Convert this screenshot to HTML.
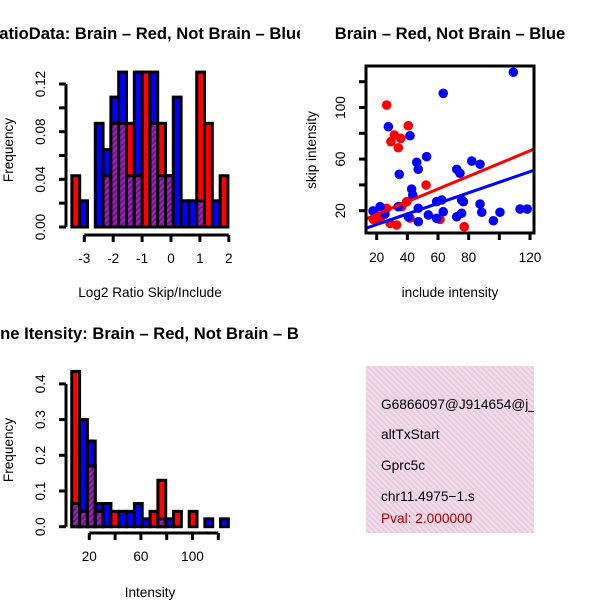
<!DOCTYPE html>
<html><head><meta charset="utf-8"><style>
html,body{margin:0;padding:0;background:#fff;}
svg{display:block;font-family:"Liberation Sans",Arial,sans-serif;}
</style></head><body>
<svg id="c" width="600" height="600" viewBox="0 0 600 600" xmlns="http://www.w3.org/2000/svg">
<defs>
<pattern id="hatch" width="4" height="4" patternUnits="userSpaceOnUse" patternTransform="rotate(45)">
<rect width="4" height="4" fill="#a020c0"/><rect width="2" height="4" fill="#6a1a80"/>
</pattern>
<pattern id="pink" width="4" height="4" patternUnits="userSpaceOnUse" patternTransform="rotate(-45)">
<rect width="4" height="4" fill="#f6d6f2"/><rect width="1.3" height="4" fill="#d8d0c8"/>
</pattern>
<clipPath id="clipL"><rect x="0" y="0" width="300" height="600"/></clipPath>
<clipPath id="clipBox"><rect x="366" y="366" width="168" height="167"/></clipPath>
</defs>
<g id="g1"></g>
<g id="g2"></g>
<g id="g3"></g>
<g clip-path="url(#clipBox)">
<rect x="366" y="366" width="168" height="167" fill="url(#pink)"/>
<text x="381" y="409" font-size="13.7">G6866097@J914654@j_</text>
<text x="381" y="439" font-size="13.7">altTxStart</text>
<text x="381" y="470" font-size="13.7">Gprc5c</text>
<text x="381" y="501" font-size="13.7">chr11.4975−1.s</text>
<text x="381" y="523" font-size="13.7" fill="#b00000">Pval: 2.000000</text>
</g>
</svg>
<script>
// ---- Histogram 1 data (Log2 ratio) ----
const h1Start = -3.43;
const h1Width = 0.27;
const h1Red  = [0.043,0,0,0,0.043,0.087,0.087,0.087,0.043,0.13,0.087,0.087,0.043,0,0,0,0.13,0.087,0,0.043];
const h1Blue = [0,0.022,0,0.087,0.065,0.109,0.13,0.043,0.13,0,0.13,0.043,0.043,0.109,0.022,0.022,0.022,0,0.022,0];
const h1XTicks = [-3,-2,-1,0,1,2];
const h1YTicks = [0,0.02,0.04,0.06,0.08,0.10,0.12];
const h1YLabels = ["0.00","","0.04","","0.08","","0.12"];
// ---- Histogram 2 data (Intensity) ----
const h2Start = 6.4;
const h2Width = 6.07;
const h2Red  = [0.435,0.043,0.17,0.043,0,0.043,0,0,0,0,0.043,0.13,0,0.043,0,0.043,0,0,0,0];
const h2Blue = [0.065,0.30,0.24,0.065,0.065,0,0.043,0.043,0.065,0.022,0,0.022,0.022,0,0,0,0,0.022,0,0.022];
const h2XTicks = [20,40,60,80,100,120];
const h2XLabels = ["20","","60","","100",""];
const h2YTicks = [0,0.1,0.2,0.3,0.4];
const h2YLabels = ["0.0","0.1","0.2","0.3","0.4"];
// ---- Scatter data ----
const redX = [26.5,40.6,31.5,35.7,29.3,34.1,52.2,39.6,17.8,22.2,26.5,28.7,33.0,36.3,61.3,77.1,20.8,41.7];
const redY = [101.9,85.9,78.7,76.1,73.5,68.8,39.9,27.0,13.3,13.3,21.9,10.2,8.9,23.1,13.3,7.6,15.9,14.3];
const blueX = [63.4,27.6,41.7,52.6,46.1,47.1,34.7,72.2,74.3,42.8,43.5,22.2,34.1,47.1,59.1,62.4,53.7,63.4,40.6,47.1,59.1,72.2,75.4,75.4,109.1,82.0,87.4,76.5,87.4,88.5,100.4,96.1,113.5,118.2,17.6,25.4];
const blueY = [111.0,85.1,78.1,61.9,57.5,52.1,48.2,52.1,49.0,36.8,32.2,23.1,23.1,21.9,27.0,28.3,16.7,19.2,15.3,11.5,14.1,15.3,18.0,28.3,127.3,58.5,56.0,27.0,25.2,18.8,18.8,12.2,21.3,21.3,19.8,17.4];
const redFit = [7.2,0.494];   // intercept, slope
const blueFit = [1.1,0.41];
const scXTicks = [20,40,60,80,100,120];
const scXLabels = ["20","40","60","80","","120"];
const scYTicks = [20,40,60,80,100,120];
const scYLabels = ["20","","60","","100",""];

const FS=13.6, TFS=16.6;
const NS="http://www.w3.org/2000/svg";
function mk(parent,tag,attrs,txt){const e=document.createElementNS(NS,tag);for(const k in attrs)e.setAttribute(k,attrs[k]);if(txt!==undefined)e.textContent=txt;parent.appendChild(e);return e;}

function hist(g,o){
  const X=v=>o.x0+(v-o.xv0)*o.xs, Y=v=>o.y0-v*o.ys;
  for(let i=0;i<o.red.length;i++){
    const l=X(o.start+i*o.width), r=X(o.start+(i+1)*o.width);
    const rv=o.red[i], bv=o.blue[i], mx=Math.max(rv,bv), mn=Math.min(rv,bv);
    if(mx>0){
      const b=mk(g,'rect',{x:l,y:Y(mx),width:r-l,height:Y(0)-Y(mx),fill:rv>=bv?'#ff0000':'#0000ff',stroke:'#000','stroke-width':3});
      
      
    }
    if(mn>0){
      const p=mk(g,'rect',{x:l,y:Y(mn),width:r-l,height:Y(0)-Y(mn),fill:'url(#hatch)',stroke:'#000','stroke-width':3});
      
      
    }
  }
  const ya=mk(g,'line',{x1:o.yax,x2:o.yax,y1:Y(o.yt[0]),y2:Y(o.yt[o.yt.length-1]),stroke:'#000','stroke-width':3});
  
  
  o.yt.forEach((t,i)=>{
    mk(g,'line',{x1:o.yax-7,x2:o.yax,y1:Y(t),y2:Y(t),stroke:'#000','stroke-width':3});
    if(o.yl[i]){const tx=mk(g,'text',{x:45,y:Y(t),'font-size':FS,'text-anchor':'middle',transform:`rotate(-90 45 ${Y(t)})`},o.yl[i]);
      
      }
  });
  const xa=mk(g,'line',{x1:X(o.xt[0]),x2:X(o.xt[o.xt.length-1]),y1:o.xay,y2:o.xay,stroke:'#000','stroke-width':3});
  
  
  o.xt.forEach((t,i)=>{
    mk(g,'line',{x1:X(t),x2:X(t),y1:o.xay,y2:o.xay+7,stroke:'#000','stroke-width':3});
    if(o.xl[i]){const tx=mk(g,'text',{x:X(t),y:o.xay+28,'font-size':FS,'text-anchor':'middle'},o.xl[i]);
      
      }
  });
}

const g1=document.getElementById('g1');
hist(g1,{x0:84.3,xv0:-3,xs:28.9,y0:227,ys:1191.7,start:h1Start,width:h1Width,red:h1Red,blue:h1Blue,xt:h1XTicks,xl:h1XTicks.map(String),yt:h1YTicks,yl:h1YLabels,yax:66,xay:235});
let t=mk(g1,'text',{x:-57,y:39,'font-size':TFS,'font-weight':'bold','clip-path':'url(#clipL)'},'Log2 RatioData: Brain – Red, Not Brain – Blue');


t=mk(g1,'text',{x:150,y:297,'font-size':FS,'text-anchor':'middle'},'Log2 Ratio Skip/Include');


t=mk(g1,'text',{x:13,y:150,'font-size':FS,'text-anchor':'middle',transform:'rotate(-90 13 150)'},'Frequency');



const g3=document.getElementById('g3');
hist(g3,{x0:89.3,xv0:20,xs:1.29,y0:526.7,ys:357,start:h2Start,width:h2Width,red:h2Red,blue:h2Blue,xt:h2XTicks,xl:h2XLabels,yt:h2YTicks,yl:h2YLabels,yax:66,xay:533});
t=mk(g3,'text',{x:-22,y:339,'font-size':TFS,'font-weight':'bold','clip-path':'url(#clipL)'},'Gene Itensity: Brain – Red, Not Brain – Blue');


t=mk(g3,'text',{x:150,y:597,'font-size':FS,'text-anchor':'middle'},'Intensity');


t=mk(g3,'text',{x:13,y:450,'font-size':FS,'text-anchor':'middle',transform:'rotate(-90 13 450)'},'Frequency');



// scatter
const g2=document.getElementById('g2');
const SX=v=>376.7+(v-20)*1.533, SY=v=>210.7-(v-20)*1.29;
const sc=mk(g2,'clipPath',{id:'scclip'});mk(sc,'rect',{x:366,y:66,width:168,height:167});
const pts=mk(g2,'g',{'clip-path':'url(#scclip)'});
redX.forEach((x,i)=>{const c=mk(pts,'circle',{cx:SX(x),cy:SY(redY[i]),r:4.8,fill:'#ff0000'});
  
  });
blueX.forEach((x,i)=>{const c=mk(pts,'circle',{cx:SX(x),cy:SY(blueY[i]),r:4.8,fill:'#0000ff'});
  
  });
[[redFit,'#ff0000','brain-fit-line'],[blueFit,'#0000ff','not-brain-fit-line']].forEach(([f,col,nm])=>{
  const xa=13,xb=122.6;
  const l=mk(pts,'line',{x1:SX(xa),y1:SY(f[0]+f[1]*xa),x2:SX(xb),y2:SY(f[0]+f[1]*xb),stroke:col,'stroke-width':3});
  
  
});
const box=mk(g2,'rect',{x:366,y:66,width:168,height:167,fill:'none',stroke:'#000','stroke-width':3});


scXTicks.forEach((v,i)=>{mk(g2,'line',{x1:SX(v),x2:SX(v),y1:233,y2:240,stroke:'#000','stroke-width':3});
  if(scXLabels[i]){const tx=mk(g2,'text',{x:SX(v),y:262,'font-size':FS,'text-anchor':'middle'},scXLabels[i]);
  
  }});
scYTicks.forEach((v,i)=>{mk(g2,'line',{x1:359,x2:366,y1:SY(v),y2:SY(v),stroke:'#000','stroke-width':3});
  if(scYLabels[i]){const tx=mk(g2,'text',{x:345,y:SY(v),'font-size':FS,'text-anchor':'middle',transform:`rotate(-90 345 ${SY(v)})`},scYLabels[i]);
  
  }});
t=mk(g2,'text',{x:450,y:39,'font-size':TFS,'font-weight':'bold','text-anchor':'middle'},'Brain – Red, Not Brain – Blue');


t=mk(g2,'text',{x:450,y:297,'font-size':FS,'text-anchor':'middle'},'include intensity');


t=mk(g2,'text',{x:316,y:150,'font-size':FS,'text-anchor':'middle',transform:'rotate(-90 316 150)'},'skip intensity');


</script>
</body></html>
